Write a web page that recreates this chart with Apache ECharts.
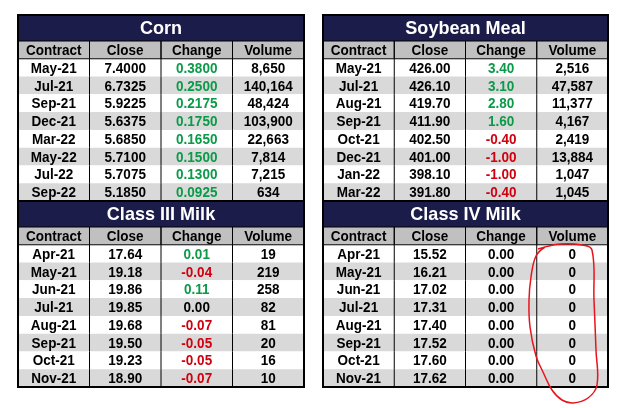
<!DOCTYPE html>
<html>
<head>
<meta charset="utf-8">
<script src="https://cdn.jsdelivr.net/npm/echarts@6/dist/echarts.min.js"></script>
<style>
  html, body { margin: 0; padding: 0; background: #fff; }
  #chart { width: 627px; height: 408px; }
</style>
</head>
<body>
<div id="chart"></div>
<script>
const headers = ["Contract", "Close", "Change", "Volume"]

const cornContracts = ["May-21", "Jul-21", "Sep-21", "Dec-21", "Mar-22", "May-22", "Jul-22", "Sep-22"]
const cornClose = [7.4, 6.7325, 5.9225, 5.6375, 5.685, 5.71, 5.7075, 5.185]
const cornChange = [0.38, 0.25, 0.2175, 0.175, 0.165, 0.15, 0.13, 0.0925]
const cornVolume = [8650, 140164, 48424, 103900, 22663, 7814, 7215, 634]

const mealContracts = ["May-21", "Jul-21", "Aug-21", "Sep-21", "Oct-21", "Dec-21", "Jan-22", "Mar-22"]
const mealClose = [426.0, 426.1, 419.7, 411.9, 402.5, 401.0, 398.1, 391.8]
const mealChange = [3.4, 3.1, 2.8, 1.6, -0.4, -1.0, -1.0, -0.4]
const mealVolume = [2516, 47587, 11377, 4167, 2419, 13884, 1047, 1045]

const milk3Contracts = ["Apr-21", "May-21", "Jun-21", "Jul-21", "Aug-21", "Sep-21", "Oct-21", "Nov-21"]
const milk3Close = [17.64, 19.18, 19.86, 19.85, 19.68, 19.5, 19.23, 18.9]
const milk3Change = [0.01, -0.04, 0.11, 0.0, -0.07, -0.05, -0.05, -0.07]
const milk3Volume = [19, 219, 258, 82, 81, 20, 16, 10]

const milk4Contracts = ["Apr-21", "May-21", "Jun-21", "Jul-21", "Aug-21", "Sep-21", "Oct-21", "Nov-21"]
const milk4Close = [15.52, 16.21, 17.02, 17.31, 17.4, 17.52, 17.6, 17.62]
const milk4Change = [0, 0, 0, 0, 0, 0, 0, 0]
const milk4Volume = [0, 0, 0, 0, 0, 0, 0, 0]

const FONT = '"Liberation Sans", Arial, sans-serif'
const NAVY = "#1c1c4a"

const boxes = [
  { title: "Corn", left: 18, top: 15, width: 286, dec: 4, c: cornContracts, cl: cornClose, ch: cornChange, v: cornVolume },
  { title: "Soybean Meal", left: 323, top: 15, width: 285, dec: 2, c: mealContracts, cl: mealClose, ch: mealChange, v: mealVolume },
  { title: "Class III Milk", left: 18, top: 201, width: 286, dec: 2, c: milk3Contracts, cl: milk3Close, ch: milk3Change, v: milk3Volume },
  { title: "Class IV Milk", left: 323, top: 201, width: 285, dec: 2, c: milk4Contracts, cl: milk4Close, ch: milk4Change, v: milk4Volume },
]
const titleH = 26
const bodyH = 160

const changeColor = n => (n > 0 ? "#0a9a48" : n < 0 ? "#d0000f" : "#000")

const buildCells = b => {
  const cells = headers.map((h, i) => [i, 0, h, "#000"])
  b.c.forEach((name, r) => {
    const row = r + 1
    cells.push([0, row, name, "#000"])
    cells.push([1, row, b.cl[r].toFixed(b.dec), "#000"])
    cells.push([2, row, b.ch[r].toFixed(b.dec), changeColor(b.ch[r])])
    cells.push([3, row, b.v[r].toLocaleString("en-US"), "#000"])
  })
  return cells
}

const renderCell = (params, api) => {
  const col = api.value(0)
  const row = api.value(1)
  const c = api.coord([col, row])
  const s = api.size([1, 1])
  const x = c[0] - s[0] / 2
  const y = c[1] - s[1] / 2
  const isHead = row === 0
  const bg = isHead ? "#c0c0c0" : row % 2 === 1 ? "#ffffff" : "#d9d9d9"
  const children = [
    { type: "rect", shape: { x: x, y: y, width: s[0], height: s[1] }, style: { fill: bg } },
  ]
  if (isHead) {
    children.push({
      type: "rect",
      shape: { x: x, y: y, width: s[0], height: s[1] },
      style: { fill: null, stroke: "#000", lineWidth: 1 },
      z2: 5,
    })
  } else if (col > 0) {
    children.push({
      type: "line",
      shape: { x1: x, y1: y, x2: x, y2: y + s[1] },
      style: { stroke: "#000", lineWidth: 1 },
      z2: 5,
    })
  }
  children.push({
    type: "text",
    x: c[0],
    y: c[1] + 1,
    scaleX: 0.9,
    style: {
      text: api.value(2),
      x: 0,
      y: 0,
      align: "center",
      verticalAlign: "middle",
      fill: api.value(3),
      font: `bold 15px ${FONT}`,
    },
    z2: 10,
  })
  return { type: "group", children: children }
}

const grids = []
const xAxes = []
const yAxes = []
const series = []
const graphics = []

boxes.forEach((b, i) => {
  grids.push({ left: b.left, top: b.top + titleH, width: b.width, height: bodyH })
  xAxes.push({ type: "category", gridIndex: i, data: headers, show: false })
  yAxes.push({
    type: "category",
    gridIndex: i,
    inverse: true,
    data: ["header"].concat(b.c),
    show: false,
  })
  series.push({
    type: "custom",
    xAxisIndex: i,
    yAxisIndex: i,
    renderItem: renderCell,
    encode: { x: 0, y: 1 },
    data: buildCells(b),
    silent: true,
  })
  graphics.push({
    type: "rect",
    shape: { x: b.left, y: b.top, width: b.width, height: titleH },
    style: { fill: NAVY },
  })
  graphics.push({
    type: "text",
    x: b.left + b.width / 2,
    y: b.top + titleH / 2 + 1,
    scaleX: 0.95,
    style: {
      text: b.title,
      x: 0,
      y: 0,
      align: "center",
      verticalAlign: "middle",
      fill: "#fff",
      font: `bold 19px ${FONT}`,
    },
  })
  graphics.push({
    type: "rect",
    z: 100,
    shape: { x: b.left, y: b.top, width: b.width, height: titleH + bodyH },
    style: { fill: null, stroke: "#000", lineWidth: 2 },
  })
})

// red hand drawn loop around the Class IV volume column
graphics.push({
  type: "polyline",
  z: 120,
  shape: {
    smooth: 0.4,
    points: [
      [538, 249], [560, 244], [582, 245], [592, 250], [594, 300], [596, 350],
      [597, 385], [588, 398], [573, 403], [562, 400], [552, 390], [543, 372],
      [536, 356], [530, 327], [529, 300], [531, 277], [536, 256], [545, 247],
    ],
  },
  style: { fill: null, stroke: "#e8141b", lineWidth: 1.5 },
})

const chart = echarts.init(document.getElementById("chart"))
chart.setOption({
  backgroundColor: "#fff",
  animation: false,
  grid: grids,
  xAxis: xAxes,
  yAxis: yAxes,
  series: series,
  graphic: graphics,
})
</script>
</body>
</html>
